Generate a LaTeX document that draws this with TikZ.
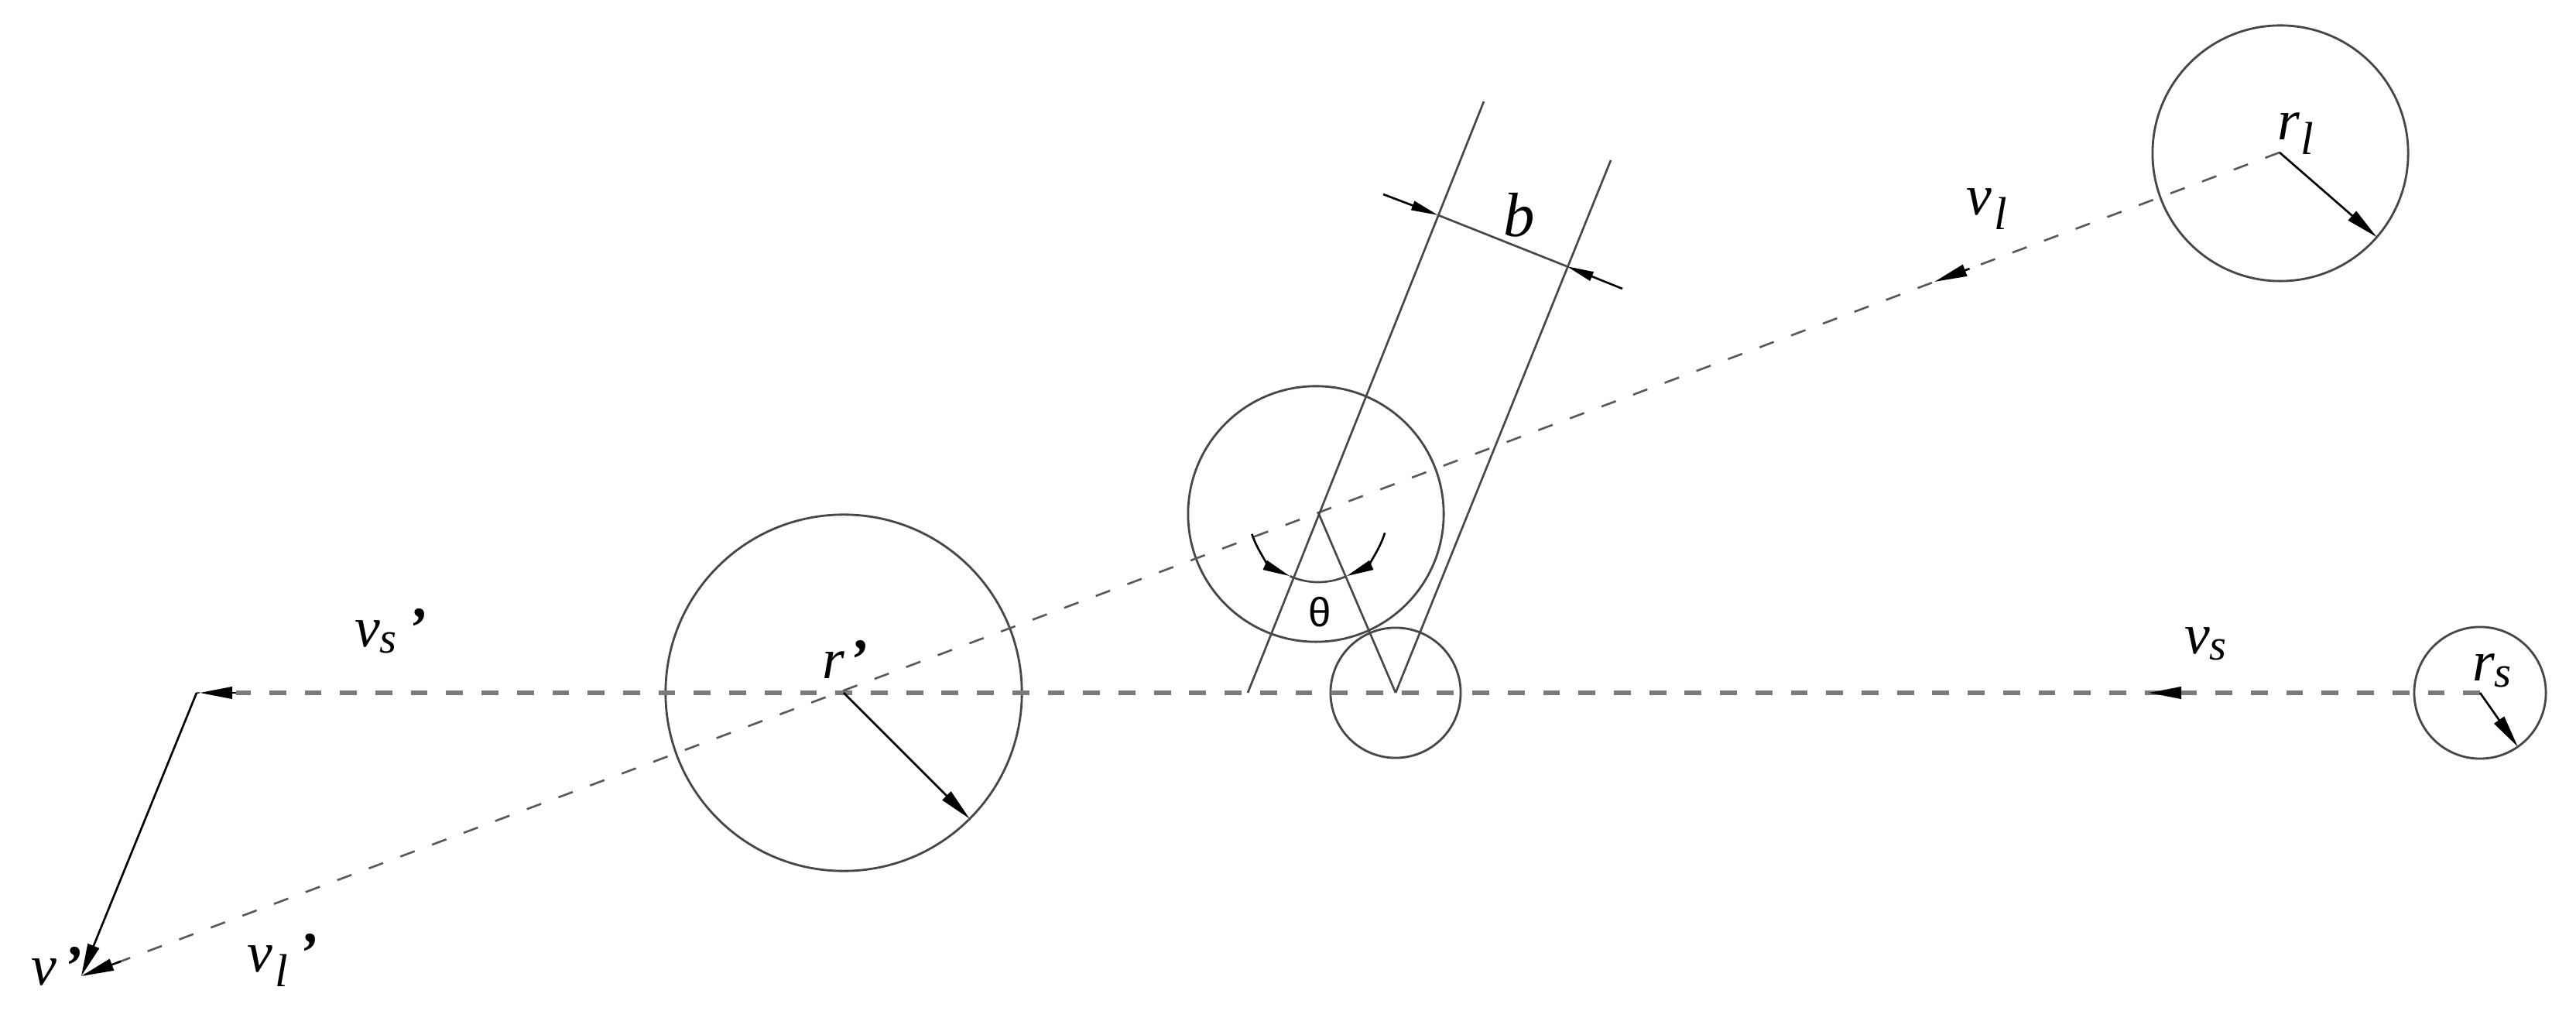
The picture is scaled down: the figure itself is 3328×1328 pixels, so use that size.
\documentclass[tikz,border=0pt]{standalone}
\usepackage{fontspec}
\setmainfont{Liberation Serif}
\newfontfamily\thetafont{Liberation Sans}
\usetikzlibrary{arrows.meta,calc}
\newcommand{\subs}{\raisebox{-2pt}{\fontsize{16}{16}\selectfont\itshape s}}
\newcommand{\subl}[1]{\kern#1pt\raisebox{-5.4pt}{\fontsize{17}{17}\selectfont\itshape l}}
\newcommand{\primemark}{{\bfseries\itshape '}}
\tikzset{
  x=0.01cm,y=0.01cm,
  solidline/.style={draw=black!72,line width=0.75pt},
  hdash/.style={draw=black!52,line width=1.5pt,dash pattern=on 6.2pt off 6.8pt},
  sdash/.style={draw=black!65,line width=0.75pt,dash pattern=on 5.6pt off 6.8pt},
  ring/.style={circle,draw=black!72,line width=0.8pt,inner sep=0pt,outer sep=0pt,minimum size=#1*0.02cm},
  tipped/.style={-{Triangle[length=12pt,width=4.4pt]},draw=black,line width=0.75pt},
  lab/.style={inner sep=0pt,outer sep=0pt,anchor=base west,font=\fontsize{21}{21}\selectfont\itshape}
}
\begin{document}
\begin{tikzpicture}
\useasboundingbox (0,0) rectangle (3328,1328);
% circles
\node[ring=230] (big) at (1090,433) {};
\node[ring=165] (mid) at (1700,664) {};
\node[ring=84] (small) at (1803,433) {};
\node[ring=165] (largeR) at (2946,1130) {};
\node[ring=85] (smallR) at (3204,433) {};
% key points
\coordinate (rlc) at (2945,1131);
\coordinate (vp) at (105,67);
\coordinate (turn) at (254,433);
\coordinate (rsc) at (3204,433);
\coordinate (vsEnd) at (305,433);
\coordinate (apex) at (1703,666);
\coordinate (vert) at (1803,433);
\coordinate (stripBase) at (1612,433);
\coordinate (stripTopL) at (1917,1197);
\coordinate (stripTopR) at (2081,1121);
\coordinate (dimA) at (1787,1077);
\coordinate (dimB) at (2096,955);
\coordinate (tipA) at (1858,1050);
\coordinate (tipB) at (2024,984);
\coordinate (vsTail) at (2816,433);
\coordinate (vsTip) at (2776,433);
\coordinate (vsPTip) at (258,433);
% dashed lines
\draw[hdash] (rsc) -- (vsEnd);
\draw[sdash] (rlc) -- (vp);
% solid construction lines
\draw[solidline] (stripBase) -- (stripTopL);
\draw[solidline] (vert) -- (stripTopR);
\draw[solidline] (vert) -- (apex);
\draw[solidline] (tipA) -- (tipB);
\draw[tipped,-{Triangle[length=10pt,width=3.4pt]}] (dimA) -- (tipA);
\draw[tipped,-{Triangle[length=10pt,width=3.4pt]}] (dimB) -- (tipB);
% radii
\draw[tipped] (big.center) -- (big.-45);
\draw[tipped] (rlc) -- (largeR.-41);
\draw[tipped] (smallR.center) -- (smallR.-55);
% velocity arrows
\draw[tipped] (vsTail) -- (vsTip);
\draw[tipped] (vsEnd) -- (vsPTip);
\draw[solidline] (vsPTip) -- (turn);
\draw[tipped] (turn) -- (vp);
\draw[tipped] ($(rlc)!0.141!(vp)$) -- ($(rlc)!0.157!(vp)$);
\draw[tipped] ($(rlc)!0.982!(vp)$) -- (vp);
% angle arc
\draw[tipped,-{Triangle[length=10pt,width=3.6pt]}] ([shift={(198:0.9cm)}]apex) arc (198:246:0.9cm);
\draw[tipped,-{Triangle[length=10pt,width=3.6pt]}] ([shift={(343:0.9cm)}]apex) arc (343:294:0.9cm);
\draw[solidline] ([shift={(246:0.9cm)}]apex) arc (246:294:0.9cm);
% labels
\node[lab] (lvs) at (2822,483) {v\subs};
\node[lab] (lrs) at (3194,448) {r\subs};
\node[lab] (lvl) at (2540,1050) {v\subl{1}};
\node[lab] (lrl) at (2942,1147) {r\subl{0.5}};
\node[lab] (lvsp) at (458,492) {v\subs\kern4pt\primemark};
\node[lab] (lvlp) at (319,72) {v\subl{1}\kern4pt\primemark};
\node[lab] (lvpr) at (40,55) {v\kern2.5pt\primemark};
\node[lab] (lrp) at (1062,451) {r\kern1.5pt\primemark};
\node[lab,font=\fontsize{23}{23}\selectfont\itshape] (lb) at (1942,1022) {b};
\node[inner sep=0pt,font=\fontsize{15}{15}\selectfont\thetafont] (lth) at (1705,537) {θ};
\end{tikzpicture}
\end{document}
